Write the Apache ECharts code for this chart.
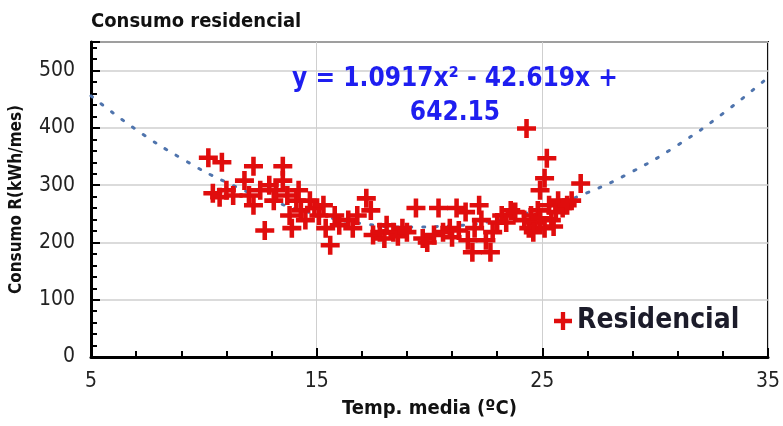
<!DOCTYPE html>
<html>
<head>
<meta charset="utf-8">
<script src="https://cdn.jsdelivr.net/npm/echarts@6/dist/echarts.min.js"></script>
<style>
html,body{margin:0;padding:0;background:#fff;}
#chart{width:783px;height:426px;}
</style>
</head>
<body>
<div id="chart"></div>
<script>
// puntos: [temp, consumo]
var residencialPts = [
	[10.2,348],[10.8,340],[12.2,333],[13.5,333],[10.4,286],[10.7,279],[11.0,291],[11.3,282],
	[11.8,308],[12.0,282],[12.2,265],[12.5,291],[12.7,221],[12.9,300],[13.1,273],[13.2,291],
	[13.5,308],[13.7,282],[13.8,247],[13.9,225],[14.1,273],[14.2,291],[14.3,256],[14.5,239],
	[14.7,273],[14.9,260],[15.1,247],[15.3,265],[15.4,225],[15.6,195],[15.8,247],[16.0,230],
	[16.4,239],[16.6,225],[16.8,247],
	[17.2,277],[17.4,256],[17.5,213],[17.8,218],[18.0,207],[18.1,230],[18.4,218],[18.6,211],
	[18.8,225],[19.0,218],[19.4,260],[19.7,207],[19.9,200],[20.2,213],[20.4,260],[20.6,218],
	[20.9,225],[21.0,209],[21.2,260],[21.3,221],[21.6,253],[21.7,204],[21.9,183],[22.0,225],
	[22.2,265],[22.3,239],[22.5,204],[22.7,183],[22.8,218],[23.0,235],[23.2,247],[23.4,235],
	[23.6,256],[23.8,253],
	[24.3,399],[24.2,239],[24.4,225],[24.5,247],[24.7,235],[24.8,256],[24.9,291],[25.1,312],
	[25.2,347],[25.3,265],[25.4,239],[25.6,253],[25.7,273],[25.9,260],[26.1,265],[26.3,273],
	[26.7,303],[24.6,218],[25.1,225],[25.5,228],[24.9,242]
];
// linea de tendencia (punteada)
var trendX = [5,7,9,11,13,15,17,19,21,23,25,27,29,31,33,35];
var trendY = [456,397,347,305,273,249,233,227,229,239,259,287,324,370,425,488];
var xTicks = [5,15,25,35];
var yTicks = [0,100,200,300,400,500];
var ecuacion1 = 'y = 1.0917x² - 42.619x +';
var ecuacion2 = '642.15';

var plusPath = 'path://M38,0H62V38H100V62H62V100H38V62H0V38H38Z';
var rojo = '#e00d0d';
var narrow = '"Liberation Sans Narrow","DejaVu Sans Condensed",sans-serif';

var trendData = [];
for (var i = 0; i < trendX.length; i++) {
	trendData.push([trendX[i], trendY[i]]);
}

var myChart = echarts.init(document.getElementById('chart'));
myChart.setOption({
	animation: false,
	title: {
		text: 'Consumo residencial',
		left: 86, top: 7,
		textStyle: {fontSize: 20, fontWeight: 'bold', color: '#111', fontFamily: narrow}
	},
	legend: {
		data: [{name: 'Residencial', icon: plusPath}],
		left: 549, top: 302,
		itemWidth: 18, itemHeight: 18, itemGap: 6,
		textStyle: {fontSize: 28, fontWeight: 'bold', color: '#1c1c2a', fontFamily: narrow}
	},
	grid: {
		left: 90, right: 8, top: 42, bottom: 69,
		show: true, borderColor: '#111', borderWidth: 2, backgroundColor: '#fff'
	},
	xAxis: {
		type: 'value', min: 5, max: 35, interval: 10,
		name: 'Temp. media (ºC)', nameLocation: 'middle', nameGap: 42,
		nameTextStyle: {fontSize: 20, fontWeight: 'bold', color: '#111', fontFamily: narrow},
		axisLine: {show: true, onZero: false, lineStyle: {color: '#000', width: 3}},
		axisTick: {show: true, inside: true, length: 9, lineStyle: {color: '#000', width: 2}},
		minorTick: {show: true, splitNumber: 5, length: 6, lineStyle: {color: '#000', width: 2}},
		axisLabel: {fontSize: 21, color: '#222', margin: 14, fontFamily: narrow},
		splitLine: {show: true, lineStyle: {color: '#cfcfcf', width: 1}}
	},
	yAxis: {
		type: 'value', min: 0, max: 550, interval: 100,
		name: 'Consumo R(kWh/mes)', nameLocation: 'middle', nameGap: 66,
		nameTextStyle: {fontSize: 17, fontWeight: 'bold', color: '#111', fontFamily: narrow},
		axisLine: {show: true, lineStyle: {color: '#000', width: 3}},
		axisTick: {show: true, inside: true, length: 9, lineStyle: {color: '#000', width: 2}},
		minorTick: {show: true, splitNumber: 5, length: 6, lineStyle: {color: '#000', width: 2}},
		axisLabel: {fontSize: 21, color: '#222', margin: 16, showMaxLabel: false, fontFamily: narrow},
		splitLine: {show: true, lineStyle: {color: '#cfcfcf', width: 1.5}}
	},
	graphic: [{
		type: 'text',
		style: {
			text: ecuacion1 + '\n' + ecuacion2,
			x: 455, y: 62, textAlign: 'center', lineHeight: 34,
			fill: '#1e1ef0', font: 'bold 26px ' + narrow
		},
		z: 10
	}],
	series: [{
		name: 'Tendencia',
		type: 'line',
		data: trendData,
		smooth: true,
		showSymbol: false,
		silent: true,
		lineStyle: {color: '#4f74ad', width: 3, type: [2, 11], cap: 'round'},
		z: 1
	}, {
		name: 'Residencial',
		type: 'scatter',
		data: residencialPts,
		symbol: plusPath,
		symbolSize: 19,
		itemStyle: {color: rojo, opacity: 1},
		z: 3
	}]
});
</script>
</body>
</html>
